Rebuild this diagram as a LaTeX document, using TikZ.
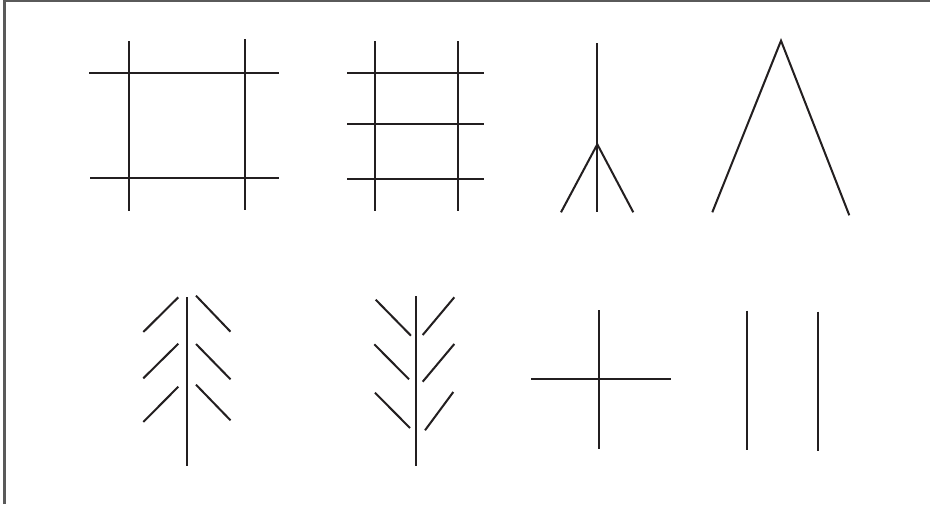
\documentclass[tikz,border=0pt]{standalone}
\usepackage{xcolor}
\usepackage{tikz}
\usetikzlibrary{calc}
\definecolor{figink}{HTML}{231F20}
\definecolor{framegray}{HTML}{5A5A5A}
\tikzset{
  stroke/.style={draw=figink, line width=1.15pt},
  frameline/.style={draw=framegray, line width=1.4pt},
}

\begin{document}
\begin{tikzpicture}[x=0.02cm, y=-0.02cm]
\useasboundingbox (0,0) rectangle (930,504);

% ---- Frame (left and top only) ----
\draw[frameline] (4.7,504) -- (4.7,0.7) -- (930,0.7);

% ---- Square grid ----
\draw[stroke] (129,41) -- (129,211);
\draw[stroke] (245.3,39.3) -- (245.3,209.7);
\draw[stroke] (89.3,73) -- (278.7,73);
\draw[stroke] (90.3,178.3) -- (279.3,178.3);

% ---- Ladder grid ----
\draw[stroke] (375,41.3) -- (375,211);
\draw[stroke] (457.7,41.3) -- (457.7,211);
\foreach \yy in {73,124.3,179}
  \draw[stroke] (347.3,\yy) -- (484.3,\yy);

% ---- Fork ----
\coordinate (fork) at (597.3,144.3);
\draw[stroke] (597.3,43) -- (597.3,212.3);
\draw[stroke] (561,212.3) -- (fork) -- (633.3,212.3);

% ---- Peak ----
\coordinate (apex) at (781,40.7);
\draw[stroke] (712.3,212.3) -- (apex) -- (849.3,215.3);

% ---- Branches up ----
\draw[stroke] (186.7,297) -- (186.7,466.3);
\foreach \yy/\yt in {332/297.3, 378.3/343.7, 422/386.7}
  \draw[stroke] (143.3,\yy) -- (178.3,\yt);
\foreach \yy/\yt in {295.7/331.7, 344/379.3, 384.7/420.3}
  \draw[stroke] (196,\yy) -- (230.5,\yt);

% ---- Branches down ----
\draw[stroke] (415.7,296) -- (415.7,465.7);
\draw[stroke] (375.7,299.7) -- (411,335.7);
\draw[stroke] (374.3,344.3) -- (409,379.3);
\draw[stroke] (375,392.7) -- (410,428);
\draw[stroke] (422.7,335) -- (454.3,297.3);
\draw[stroke] (422.7,381.7) -- (454.3,344);
\draw[stroke] (425,430.3) -- (453.3,392);

% ---- Cross ----
\draw[stroke] (599.3,310) -- (599.3,449);
\draw[stroke] (531.3,379.3) -- (670.7,379.3);

% ---- Parallel bars ----
\draw[stroke] (747.3,310.7) -- (747.3,449.7);
\draw[stroke] (818.3,311.7) -- (818.3,450.7);

\end{tikzpicture}
\end{document}
